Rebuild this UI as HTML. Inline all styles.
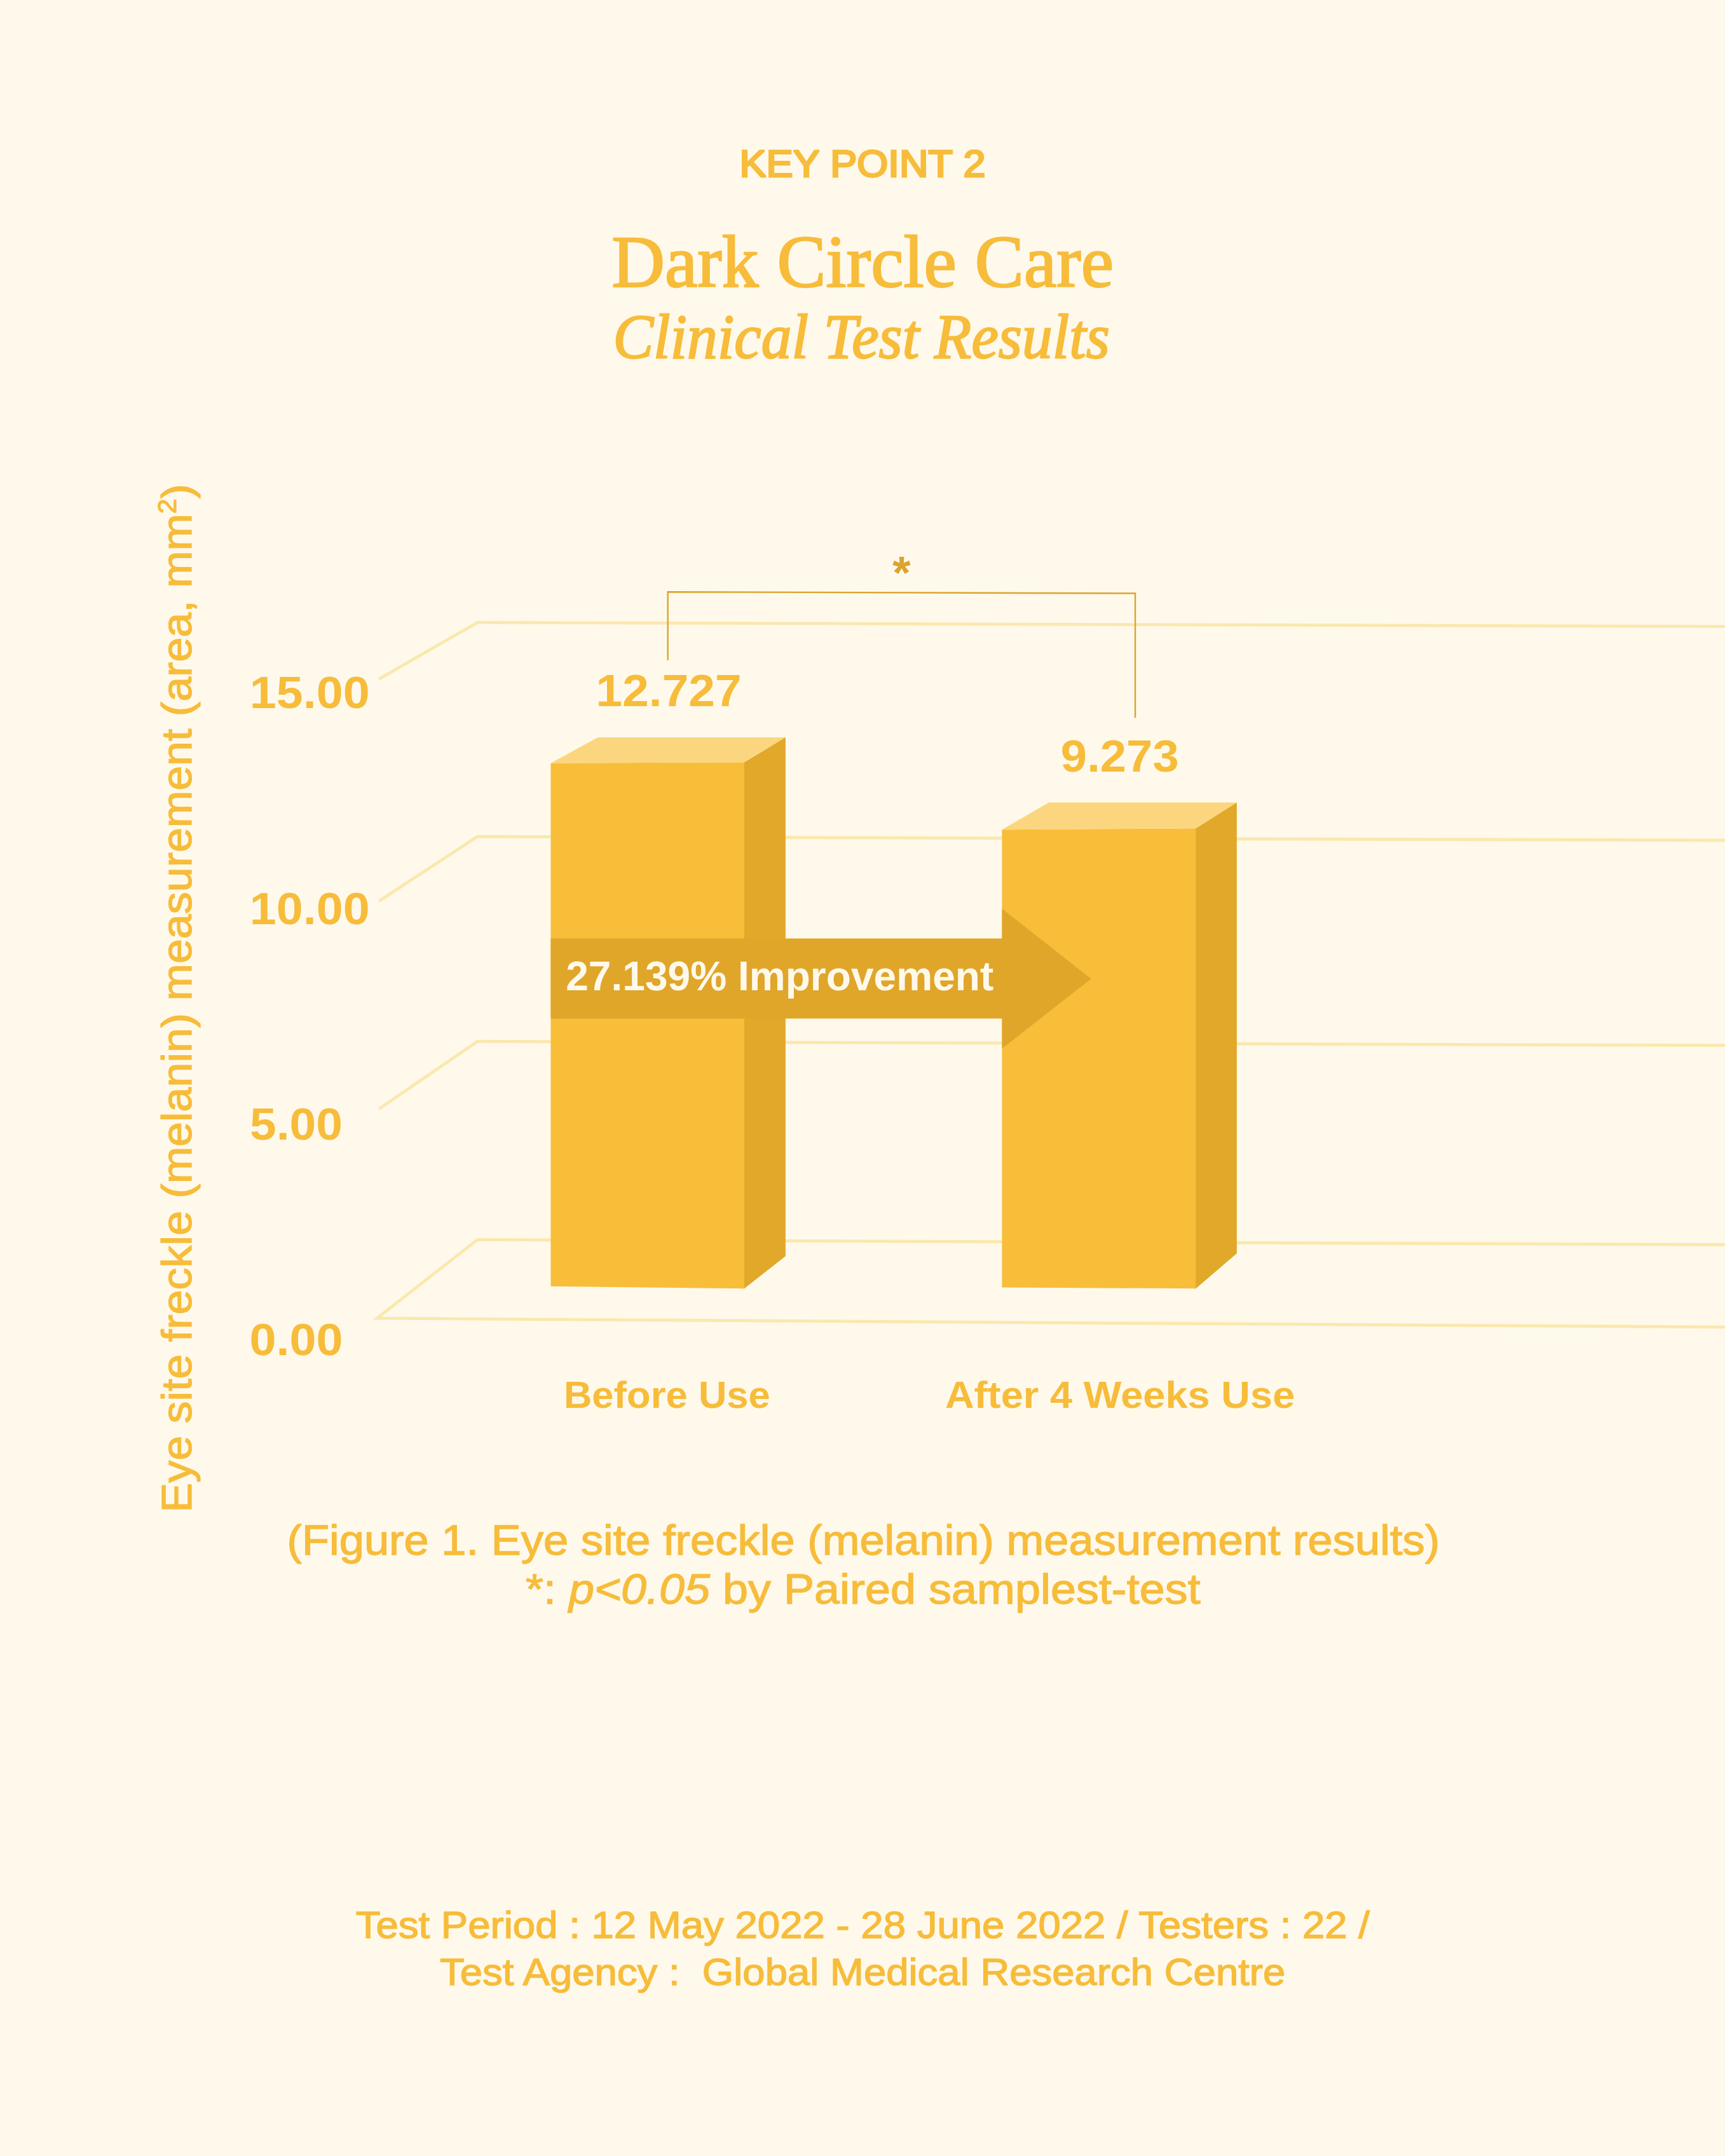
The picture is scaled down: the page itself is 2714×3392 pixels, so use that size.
<!DOCTYPE html>
<html lang="en">
<head>
<meta charset="utf-8">
<title>Dark Circle Care – Clinical Test Results</title>
<style>
  html, body { margin: 0; padding: 0; background: #FEF9EB; }
  body { width: 2714px; height: 3392px; overflow: hidden; }
  svg { display: block; }
  .sans { font-family: "Liberation Sans", "DejaVu Sans", sans-serif; }
  .serif { font-family: "Liberation Serif", "DejaVu Serif", serif; }
  .y { fill: #F7BC3A; }
</style>
</head>
<body>
<svg width="2714" height="3392" viewBox="0 0 2714 3392">
  <rect x="0" y="0" width="2714" height="3392" fill="#FEF9EB"/>

  <!-- Heading -->
  <text id="t_key" class="sans y" x="1163.5" y="278" font-size="59" stroke="#F7BC3A" stroke-width="3" stroke-linejoin="miter" stroke-miterlimit="2" textLength="387" lengthAdjust="spacingAndGlyphs">KEY POINT 2</text>
  <text id="t_h1" class="serif y" x="962.4" y="450.6" font-size="117" stroke="#F7BC3A" stroke-width="2.4" stroke-linejoin="miter" stroke-miterlimit="2" textLength="789.7" lengthAdjust="spacingAndGlyphs">Dark Circle Care</text>
  <text id="t_h2" class="serif y" x="964.4" y="563.3" font-size="100" font-style="italic" stroke="#F7BC3A" stroke-width="2.4" stroke-linejoin="miter" stroke-miterlimit="2" textLength="781.5" lengthAdjust="spacingAndGlyphs">Clinical Test Results</text>

  <!-- Grid lines -->
  <g fill="none" stroke="#FBE8AE" stroke-width="4.8" stroke-linejoin="miter">
    <polyline points="596.2,1068.4 751.1,979.3 2714,985.6"/>
    <polyline points="596.2,1417.7 751.1,1316.2 2714,1322"/>
    <polyline points="596.2,1744.7 751.1,1638.4 2714,1644.7"/>
    <polygon points="593.2,2074 751.2,1950.3 2730,1958.3 2730,2088"/>
  </g>

  <!-- Bracket and asterisk -->
  <polyline points="1050.7,1038.8 1050.7,931.2 1786.1,933.5 1786.1,1129.2" fill="none" stroke="#DCA32D" stroke-width="2.4"/>
  <text id="t_ast" class="sans" x="1418.4" y="926.4" font-size="73" font-weight="bold" text-anchor="middle" fill="#DCA32D">*</text>

  <!-- Bar 1 -->
  <polygon points="1169,1199.2 1171,1199.2 1235.9,1159.9 1235.9,1976.2 1171,2027.2 1169,2027.2" fill="#E1A82A"/>
  <polygon points="866.5,1200.7 1171,1199.2 1171,2027.2 866.5,2023.7" fill="#F8BD39"/>
  <polygon points="866.5,1200.7 1171,1199.2 1235.9,1159.9 940.8,1159.9" fill="#FBD67E"/>

  <!-- Bar 2 -->
  <polygon points="1879,1303.3 1881.4,1303.3 1945.9,1262.4 1945.9,1971.9 1881.4,2027.2 1879,2027.2" fill="#E1A82A"/>
  <polygon points="1576.5,1305.3 1881.4,1303.3 1881.4,2027.2 1576.5,2025.5" fill="#F8BD39"/>
  <polygon points="1576.5,1305.3 1881.4,1303.3 1945.9,1262.4 1650.3,1262.4" fill="#FBD67E"/>

  <!-- Arrow -->
  <polygon points="866.5,1476.6 1576.5,1476.6 1576.5,1429.6 1716.6,1540 1576.5,1649.8 1576.5,1602.4 866.5,1602.4" fill="#E0A62A"/>
  <text id="t_imp" class="sans" x="890.2" y="1558" font-size="64" font-weight="bold" fill="#FEF9EB" textLength="673.1" lengthAdjust="spacingAndGlyphs">27.139% Improvement</text>

  <!-- Axis tick labels -->
  <g class="sans y" font-size="70" font-weight="bold">
    <text id="t_15" x="392.8" y="1114.3" textLength="188.8" lengthAdjust="spacingAndGlyphs">15.00</text>
    <text id="t_10" x="392.8" y="1453.6" textLength="188.8" lengthAdjust="spacingAndGlyphs">10.00</text>
    <text id="t_5" x="393" y="1793" textLength="146" lengthAdjust="spacingAndGlyphs">5.00</text>
    <text id="t_0" x="392.5" y="2132" textLength="147" lengthAdjust="spacingAndGlyphs">0.00</text>
    <text id="t_v1" x="937.5" y="1111.3" textLength="229.2" lengthAdjust="spacingAndGlyphs">12.727</text>
    <text id="t_v2" x="1668.8" y="1213.9" textLength="186" lengthAdjust="spacingAndGlyphs">9.273</text>
  </g>

  <!-- Category labels -->
  <g class="sans y" font-size="60" font-weight="bold">
    <text id="t_before" x="886.9" y="2214.6" textLength="324.9" lengthAdjust="spacingAndGlyphs">Before Use</text>
    <text id="t_after" x="1486.9" y="2214.6" textLength="550.4" lengthAdjust="spacingAndGlyphs">After 4 Weeks Use</text>
  </g>

  <!-- Y axis label -->
  <text id="t_yaxis" class="sans y" font-size="66" stroke="#F7BC3A" stroke-width="1.3" stroke-linejoin="miter" stroke-miterlimit="2" transform="translate(300.5 2379.4) rotate(-90)" x="0" y="0" textLength="1618" lengthAdjust="spacingAndGlyphs">Eye site freckle (melanin) measurement (area, mm<tspan font-size="40" dy="-24">2</tspan><tspan dy="24">)</tspan></text>

  <!-- Caption -->
  <g class="sans y" font-size="66" stroke="#F7BC3A" stroke-width="1.3" stroke-linejoin="miter" stroke-miterlimit="2">
    <text id="t_cap1" x="451.5" y="2446" textLength="1813.7" lengthAdjust="spacingAndGlyphs">(Figure 1. Eye site freckle (melanin) measurement results)</text>
    <text id="t_cap2" x="827" y="2522.5" textLength="1061.8" lengthAdjust="spacingAndGlyphs">*: <tspan font-style="italic">p&lt;0.05</tspan> by Paired samplest-test</text>
  </g>

  <!-- Footer -->
  <g class="sans y" font-size="59.5" stroke="#F7BC3A" stroke-width="1.4" stroke-linejoin="miter" stroke-miterlimit="2">
    <text id="t_f1" x="559.7" y="3049.3" textLength="1595.3" lengthAdjust="spacingAndGlyphs">Test Period : 12 May 2022 - 28 June 2022 / Testers : 22 /</text>
    <text id="t_f2" x="692" y="3123.3" textLength="1330.3" lengthAdjust="spacingAndGlyphs" xml:space="preserve" style="white-space:pre">Test Agency :  Global Medical Research Centre</text>
  </g>
</svg>
</body>
</html>
